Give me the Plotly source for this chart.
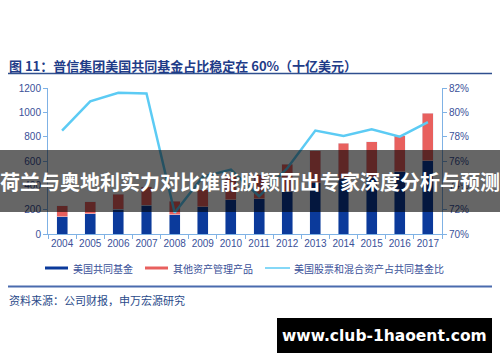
import plotly.graph_objects as go

years = ["2004", "2005", "2006", "2007", "2008", "2009", "2010",
         "2011", "2012", "2013", "2014", "2015", "2016", "2017"]
mutual_funds = [142, 165, 203, 238, 160, 226, 282, 290, 350, 420, 455, 465, 512, 602]
other_products = [91, 100, 123, 151, 111, 137, 200, 199, 225, 265, 290, 295, 296, 390]
equity_share = [78.5, 80.9, 81.6, 81.55, 71.75, 74.7, 75.3, 73.1, 75.4, 78.5, 78.05, 78.6, 78.0, 79.2]

left_ticks = [0, 200, 400, 600, 800, 1000, 1200]
right_ticks = [70, 72, 74, 76, 78, 80, 82]
right_labels = ["70%", "72%", "74%", "76%", "78%", "80%", "82%"]

title_text = "图 11：普信集团美国共同基金占比稳定在 60%（十亿美元）"
source_text = "资料来源：公司财报，申万宏源研究"
banner_text = "荷兰与奥地利实力对比谁能脱颖而出专家深度分析与预测"
watermark_text = "www.club-1haoent.com"
legend_names = ["美国共同基金", "其他资产管理产品", "美国股票和混合资产占共同基金比"]

NAVY = "#0B3A9B"
RED = "#E8605E"
SKY = "#5CCBF4"
AXIS = "#7FB2E5"
TXT = "#3A5199"
FONT = "Liberation Sans, Noto Sans CJK SC, sans-serif"
CJK = "Noto Sans CJK SC, sans-serif"

W, H = 500, 362
L, R, T, B = 48, 58, 88, 128
PW, PH = W - L - R, H - T - B


def px(x, y):
    return (x - L) / PW, (H - B - y) / PH


fig = go.Figure()
fig.add_trace(go.Bar(x=years, y=mutual_funds, name=legend_names[0],
                     marker_color=NAVY, showlegend=False))
fig.add_trace(go.Bar(x=years, y=other_products, name=legend_names[1],
                     marker_color=RED, showlegend=False))
fig.add_trace(go.Scatter(x=years, y=equity_share, name=legend_names[2], yaxis="y2",
                         mode="lines", line=dict(color=SKY, width=2.5), showlegend=False))

shapes = []
annotations = []


def hline(x0, x1, y, color, width):
    a0, b0 = px(x0, y)
    a1, _ = px(x1, y)
    shapes.append(dict(type="line", xref="paper", yref="paper", x0=a0, x1=a1, y0=b0, y1=b0,
                       line=dict(color=color, width=width), layer="above"))


def rect(x0, y0, x1, y1, color):
    a0, b0 = px(x0, y0)
    a1, b1 = px(x1, y1)
    shapes.append(dict(type="rect", xref="paper", yref="paper", x0=a0, x1=a1, y0=b0, y1=b1,
                       fillcolor=color, line=dict(width=0), layer="above"))


def text(x, y, s, size, color, anchor="left", bold=False, family=CJK):
    a, b = px(x, y)
    annotations.append(dict(xref="paper", yref="paper", x=a, y=b, text=("<b>%s</b>" % s) if bold else s,
                            showarrow=False, xanchor=anchor, yanchor="middle",
                            font=dict(size=size, color=color, family=family)))


# title and underline
text(7, 65, title_text, 13, "#1F3C88", bold=True)
hline(8, 492, 73.5, "#2F4F8F", 1.5)

# legend
rect(45, 266.5, 68, 269.5, NAVY)
text(71, 268, legend_names[0], 10, TXT)
rect(145, 266.5, 168, 269.5, RED)
text(171, 268, legend_names[1], 10, TXT)
hline(265, 290, 268, SKY, 1.5)
text(292, 268, legend_names[2], 10, TXT)

# source
hline(8, 492, 286.5, "#4A6BAE", 2)
text(7, 300, source_text, 11, "#2A4A8A")

# banner overlay
rect(0, 150, 500, 212, "rgba(0,0,0,0.6)")
text(250, 181, banner_text, 20, "white", anchor="center", bold=True)

# watermark
rect(277, 318, 492, 353, "black")
text(384.5, 335.5, watermark_text, 15.5, "white", anchor="center", bold=True,
     family="DejaVu Sans, sans-serif")

fig.update_layout(
    width=W, height=H,
    margin=dict(l=L, r=R, t=T, b=B, pad=0),
    paper_bgcolor="white", plot_bgcolor="white",
    barmode="stack", bargap=0.61,
    font=dict(family=FONT, size=10, color=TXT),
    xaxis=dict(type="category", showline=True, linecolor=AXIS, linewidth=1,
               ticks="outside", tickson="boundaries", ticklen=4, tickcolor=AXIS,
               tickangle=0, tickfont=dict(size=10, color=TXT), showgrid=False, zeroline=False),
    yaxis=dict(range=[0, 1200], tickvals=left_ticks, showline=True, linecolor=AXIS,
               ticks="outside", ticklen=4, tickcolor=AXIS, showgrid=False, zeroline=False,
               tickfont=dict(size=10, color=TXT)),
    yaxis2=dict(range=[70, 82], tickvals=right_ticks, ticktext=right_labels, overlaying="y",
                side="right", showline=True, linecolor=AXIS, ticks="outside", ticklen=4,
                tickcolor=AXIS, showgrid=False, zeroline=False,
                tickfont=dict(size=10, color=TXT)),
    shapes=shapes, annotations=annotations,
)

fig.write_html("out.html")
